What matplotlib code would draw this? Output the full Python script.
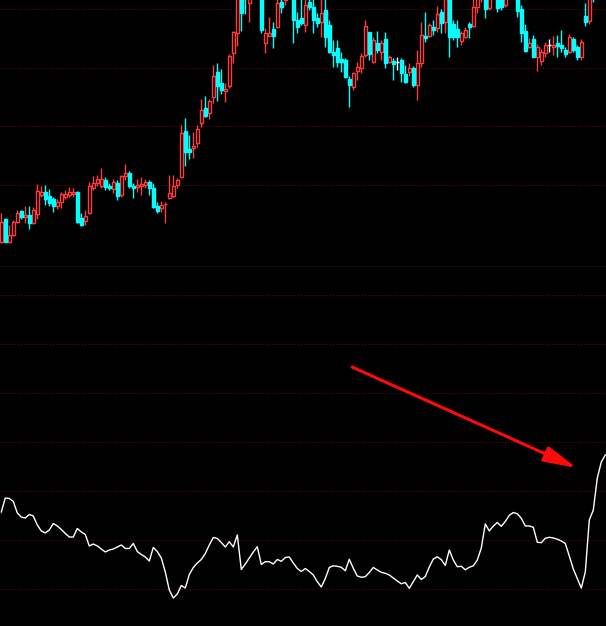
import matplotlib
matplotlib.use("Agg")
import matplotlib.pyplot as plt
import numpy as np

# daily candles, oldest first (bodies above the top edge are cut off like in the terminal)
opens = [5.83, 8.10, 5.83, 6.50, 7.83, 8.93, 8.33, 8.50, 7.67, 8.60,
	10.50, 10.83, 10.40, 10.10, 9.43, 9.83, 10.33, 10.50, 10.57, 10.77,
	8.23, 7.93, 8.73, 11.23, 11.67, 11.43, 12.00, 11.40, 11.10, 11.67,
	10.50, 12.43, 12.67, 11.40, 11.27, 11.40, 11.53, 11.80, 11.23, 9.43,
	9.17, 9.58, 10.17, 10.43, 11.50, 12.33, 16.90, 15.10, 15.23, 15.73,
	17.67, 19.23, 18.67, 20.27, 22.80, 21.73, 20.93, 21.40, 24.67, 26.67,
	30.50, 32.00, 29.73, 31.50, 34.00, 30.50, 25.73, 26.43, 27.10, 27.33,
	29.83, 30.00, 31.50, 31.00, 28.00, 28.17, 27.50, 29.83, 29.33, 28.17,
	27.83, 29.00, 27.50, 24.83, 25.23, 24.10, 24.00, 22.10, 21.33, 22.93,
	23.17, 24.50, 26.77, 23.83, 25.73, 24.83, 26.07, 23.83, 23.90, 23.83,
	24.00, 22.60, 22.80, 23.20, 21.50, 23.67, 26.40, 26.40, 27.33, 27.17,
	28.83, 27.83, 30.30, 27.60, 27.07, 25.93, 26.33, 27.60, 27.40, 29.33,
	30.50, 30.30, 29.17, 30.50, 30.50, 30.30, 29.50, 30.50, 31.50, 30.30,
	29.10, 26.90, 25.27, 26.10, 24.33, 23.93, 24.73, 25.50, 25.33, 25.73,
	25.50, 25.00, 24.83, 26.10, 25.33, 24.33, 28.40, 27.93, 32.00, 31.00,
	33.00, 34.50]
highs = [8.73, 8.23, 7.50, 8.00, 9.00, 9.00, 9.40, 9.43, 9.30, 11.57,
	11.43, 11.50, 11.10, 10.30, 10.07, 10.83, 11.00, 11.33, 11.17, 10.90,
	8.67, 9.00, 11.83, 12.40, 12.50, 13.17, 12.33, 11.67, 12.10, 12.00,
	12.50, 13.60, 12.93, 11.73, 12.07, 12.27, 12.13, 12.00, 11.67, 9.83,
	9.90, 9.83, 12.50, 12.50, 12.23, 17.50, 18.17, 16.50, 16.83, 17.50,
	20.10, 20.40, 20.07, 23.50, 23.73, 23.10, 21.67, 24.57, 26.90, 31.00,
	31.00, 32.50, 31.50, 34.50, 34.80, 31.00, 27.17, 28.27, 27.77, 30.20,
	30.50, 32.00, 32.50, 31.50, 28.77, 30.30, 30.20, 30.50, 30.30, 28.67,
	30.20, 30.20, 28.00, 26.00, 26.00, 24.83, 24.17, 22.40, 22.83, 23.83,
	24.73, 28.00, 26.83, 26.33, 26.90, 26.00, 26.83, 24.50, 24.20, 24.33,
	24.20, 23.50, 23.70, 23.40, 25.00, 27.83, 28.83, 27.67, 28.00, 29.40,
	29.07, 30.50, 30.60, 28.00, 28.00, 26.90, 27.33, 27.83, 30.20, 30.80,
	32.00, 30.60, 30.80, 31.80, 31.00, 30.50, 31.00, 32.00, 32.40, 30.50,
	29.50, 27.60, 26.17, 26.50, 25.57, 25.07, 25.83, 26.07, 26.40, 26.50,
	27.00, 25.33, 26.57, 26.33, 25.50, 26.07, 29.67, 31.00, 32.50, 33.50,
	35.00, 36.00]
lows = [5.70, 5.80, 5.70, 6.40, 7.70, 8.10, 7.70, 7.10, 7.60, 8.10,
	10.33, 9.50, 9.43, 8.77, 9.07, 9.23, 10.07, 10.33, 10.33, 7.67,
	7.40, 7.50, 8.60, 11.00, 11.40, 11.17, 11.00, 11.00, 10.67, 10.00,
	10.33, 12.00, 11.17, 10.17, 10.83, 10.50, 11.17, 10.50, 9.17, 8.67,
	8.83, 7.73, 10.10, 10.33, 11.17, 12.30, 13.40, 14.10, 14.17, 15.33,
	17.33, 18.27, 18.07, 19.73, 19.93, 20.60, 19.83, 21.17, 23.70, 25.40,
	26.93, 28.60, 27.83, 31.00, 31.50, 26.67, 24.67, 26.40, 25.23, 27.17,
	28.73, 29.50, 30.80, 25.67, 26.67, 27.50, 26.83, 29.00, 26.67, 27.33,
	26.33, 25.33, 24.67, 23.33, 23.33, 22.83, 22.17, 19.33, 21.00, 22.00,
	22.67, 24.33, 24.00, 23.67, 24.67, 24.00, 23.17, 23.67, 22.00, 23.00,
	21.83, 21.67, 22.40, 21.33, 20.00, 23.33, 25.83, 26.33, 26.50, 26.83,
	26.67, 26.70, 24.27, 26.00, 25.27, 25.50, 26.17, 26.17, 27.33, 28.73,
	29.80, 28.17, 29.00, 30.10, 28.83, 29.00, 29.30, 30.20, 30.80, 28.27,
	25.83, 24.83, 25.17, 24.27, 22.90, 23.50, 24.33, 24.83, 24.50, 24.33,
	24.83, 24.27, 24.67, 24.83, 24.00, 24.00, 27.40, 27.60, 29.80, 30.50,
	32.50, 34.00]
closes = [7.83, 5.83, 6.50, 7.83, 8.73, 8.33, 8.50, 7.67, 9.00, 10.90,
	10.83, 10.10, 9.73, 9.43, 9.83, 10.60, 10.60, 10.83, 10.77, 7.83,
	7.50, 8.40, 11.40, 11.67, 12.07, 12.10, 11.33, 11.17, 11.77, 10.43,
	12.40, 12.67, 11.40, 11.23, 11.50, 11.60, 11.80, 11.23, 9.33, 8.93,
	9.50, 9.62, 10.67, 11.43, 12.00, 16.67, 14.83, 14.83, 15.43, 17.07,
	19.00, 18.40, 19.87, 22.40, 21.40, 21.00, 21.10, 24.40, 26.77, 30.50,
	28.73, 30.20, 31.00, 34.00, 32.00, 27.00, 26.67, 26.73, 26.43, 29.67,
	29.33, 31.50, 32.20, 28.00, 27.33, 27.67, 29.50, 29.33, 28.00, 27.67,
	28.67, 26.33, 24.83, 24.50, 23.83, 23.83, 22.33, 21.50, 22.67, 23.33,
	24.40, 27.40, 24.60, 26.00, 25.00, 25.67, 23.67, 24.27, 23.57, 23.83,
	22.67, 21.83, 23.20, 21.50, 23.70, 26.50, 26.17, 27.50, 27.00, 28.60,
	27.73, 30.10, 26.33, 26.33, 26.27, 26.67, 27.00, 27.33, 29.27, 30.50,
	31.70, 29.07, 30.50, 31.30, 29.17, 29.27, 30.50, 31.50, 31.00, 28.93,
	26.67, 24.93, 25.67, 24.33, 25.27, 24.83, 25.50, 25.50, 25.50, 25.43,
	25.23, 24.60, 26.27, 25.00, 24.27, 25.83, 27.83, 30.50, 30.20, 33.00,
	34.50, 35.50]

# lower indicator, one value per candle
indicator = [15.71, 18.57, 18.47, 17.86, 15.51, 14.69, 14.49, 15.20, 14.90, 13.06,
	11.84, 11.43, 12.04, 13.37, 12.86, 12.14, 11.33, 10.61, 10.61, 12.35,
	11.63, 11.12, 8.78, 9.18, 8.78, 8.16, 7.55, 7.96, 8.16, 8.57,
	8.98, 8.27, 8.27, 9.29, 7.65, 7.04, 6.53, 5.71, 8.47, 7.65,
	6.33, 3.47, -0.20, -1.84, -1.02, 0.71, 0.20, 2.96, 4.39, 5.31,
	6.02, 7.24, 8.98, 10.51, 10.31, 9.49, 8.57, 9.65, 8.57, 11.02,
	3.98, 5.10, 6.33, 7.55, 8.63, 5.00, 5.57, 5.57, 5.10, 6.02,
	5.65, 6.43, 6.53, 5.31, 4.18, 3.57, 4.18, 3.57, 2.86, 1.49,
	0.41, 2.14, 4.39, 4.73, 4.63, 4.43, 3.73, 6.06, 4.22, 2.65,
	2.39, 2.51, 3.37, 4.39, 3.88, 3.41, 3.20, 2.86, 2.24, 1.63,
	1.06, 1.33, 0.14, 1.49, 2.86, 1.94, 2.55, 4.49, 6.12, 6.57,
	5.98, 4.80, 7.96, 5.92, 4.55, 4.63, 3.92, 4.43, 4.73, 5.92,
	8.37, 13.27, 11.84, 12.86, 13.57, 12.80, 13.78, 15.04, 15.61, 15.35,
	14.43, 12.86, 12.86, 12.59, 9.53, 9.45, 10.35, 10.55, 10.41, 10.16,
	9.80, 9.29, 6.73, 4.08, 2.14, 0.20, 3.47, 14.08, 16.12, 22.65,
	25.92, 27.35]

price_grid = [11.55, 17.40, 23.25, 29.10]
indicator_grid = [0, 10, 20, 30, 40, 50, 60]

UP = "#ff3b3b"
DOWN = "#00ffff"
FLAT = "#ffffff"
GRID = "#6e0a0a"


def draw_candles(ax):
	x = np.arange(len(closes))
	o = np.array(opens)
	c = np.array(closes)
	colors = np.where(c > o, UP, np.where(c < o, DOWN, FLAT))
	ax.vlines(x, lows, highs, colors=colors, linewidth=1, zorder=2)
	up = c > o
	down = c < o
	flat = c == o
	ax.bar(x[up], (c - o)[up], bottom=o[up], width=0.62, facecolor="black",
		edgecolor=UP, linewidth=1, zorder=3)
	ax.bar(x[down], (o - c)[down], bottom=c[down], width=0.62, facecolor=DOWN,
		edgecolor=DOWN, linewidth=1, zorder=3)
	ax.hlines(c[flat], x[flat] - 0.4, x[flat] + 0.4, colors=FLAT, linewidth=1, zorder=3)


def main():
	assert len(opens) == len(highs) == len(lows) == len(closes) == len(indicator)
	fig = plt.figure(figsize=(6.06, 6.26), dpi=100, facecolor="black")
	ax1 = fig.add_axes([0, 359 / 626, 1, 267 / 626])
	ax2 = fig.add_axes([0, 0, 1, 359 / 626])
	n = len(closes)
	for ax in (ax1, ax2):
		ax.set_facecolor("black")
		ax.set_xlim(-0.325, n - 0.825)
		ax.set_xticks([])
		ax.set_yticks([])
		for s in ax.spines.values():
			s.set_visible(False)

	for g in price_grid:
		ax1.axhline(g, color=GRID, linewidth=0.7, linestyle=(0, (1, 2)), zorder=1)
	draw_candles(ax1)
	ax1.set_ylim(3.3, 30.0)
	ax1.spines["bottom"].set_visible(True)
	ax1.spines["bottom"].set_color("#8a3a2c")
	ax1.spines["bottom"].set_linewidth(1)

	for g in indicator_grid:
		ax2.axhline(g, color=GRID, linewidth=0.7, linestyle=(0, (1, 2)), zorder=1)
	ax2.plot(np.arange(n), indicator, color="white", linewidth=1, zorder=3)
	ax2.set_ylim(-7.55, 65.7)

	ax2.annotate("", xy=(0.952, 0.440), xytext=(0.581, 0.7214),
		xycoords="axes fraction", textcoords="axes fraction",
		arrowprops=dict(arrowstyle="-|>,head_length=1.0,head_width=0.24",
			color="#ff0a0a", linewidth=2.2, mutation_scale=20, shrinkA=0, shrinkB=0))

	fig.savefig("out.png", dpi=100, facecolor="black")


if __name__ == "__main__":
	main()
